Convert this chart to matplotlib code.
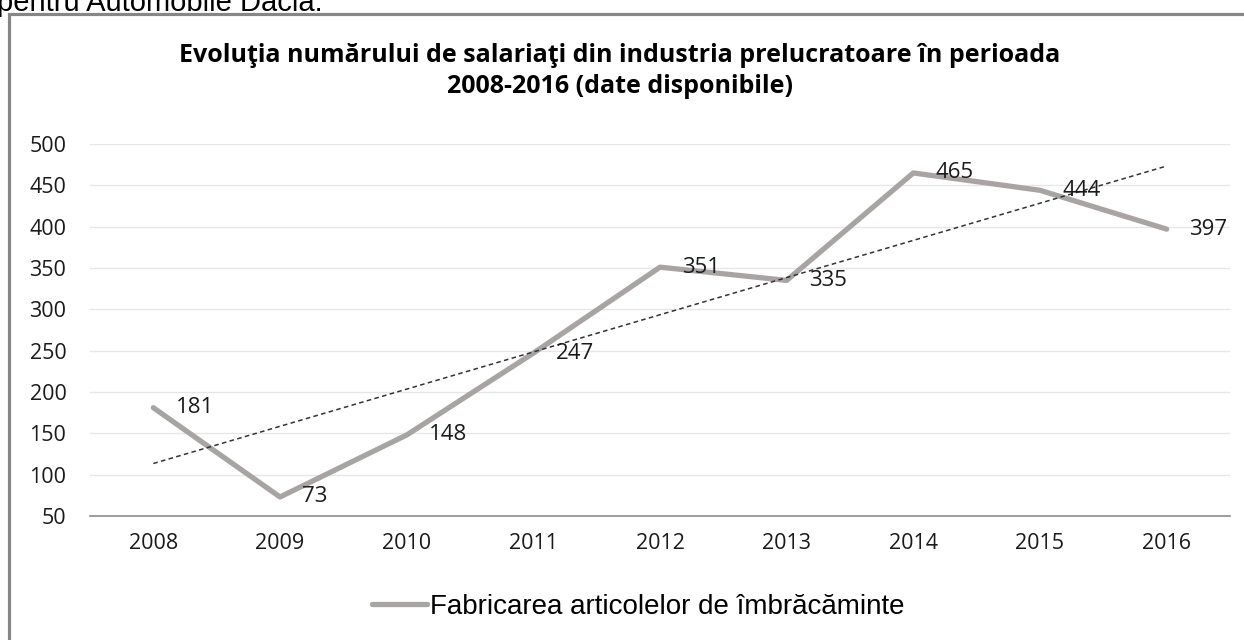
import numpy as np
import matplotlib
matplotlib.use("Agg")
import matplotlib.pyplot as plt
from matplotlib.patches import Rectangle

# date
ani = ["2008", "2009", "2010", "2011", "2012", "2013", "2014", "2015", "2016"]
salariati = [181, 73, 148, 247, 351, 335, 465, 444, 397]
serie = "Fabricarea articolelor de îmbrăcăminte"
titlu = "Evoluţia numărului de salariaţi din industria prelucratoare în perioada\n2008-2016 (date disponibile)"
yticks = [50, 100, 150, 200, 250, 300, 350, 400, 450, 500]

fig = plt.figure(figsize=(12.44, 6.4), dpi=100)
W, H = 1244, 640

# cadrul graficului (taiat la dreapta si jos)
fig.patches.append(Rectangle((8.5 / W, -0.1), 1.2, 1 - 13.5 / H + 0.1, transform=fig.transFigure,
                             fill=False, edgecolor="#868686", linewidth=2.3, zorder=0))
# text din document, taiat sus
fig.text(-3 / W, 1 - 11 / H, "pentru Automobile Dacia.", family="Liberation Sans",
         fontsize=21, va="baseline", ha="left", color="black")

ax = fig.add_axes([90 / W, 1 - 516 / H, 1140 / W, 372 / H])
x = np.arange(len(ani))
ax.plot(x, salariati, color="#a8a4a4", linewidth=3.8, solid_capstyle="round",
        solid_joinstyle="round", zorder=3, label=serie)

# linie de tendinta liniara
coef = np.polyfit(x, salariati, 1)
ax.plot(x, np.polyval(coef, x), color="#333333", linewidth=1.1, linestyle=(0, (3, 2.2)), zorder=4)

for xi, v in zip(x, salariati):
    ax.annotate(str(v), (xi, v), xytext=(16, 0), textcoords="offset points",
                ha="left", va="center", fontsize=16, family="Open Sans", color="#1a1a1a", zorder=5)

ax.set_xlim(-0.5, len(ani) - 0.5)
ax.set_ylim(50, 500)
ax.set_yticks(yticks)
ax.set_xticks(x)
ax.set_xticklabels(ani)
ax.grid(axis="y", color="#e6e6e6", linewidth=1)
ax.set_axisbelow(True)
for s in ["top", "right", "left"]:
    ax.spines[s].set_visible(False)
ax.spines["bottom"].set_color("#8c8c8c")
ax.spines["bottom"].set_linewidth(1.2)
ax.tick_params(axis="both", length=0, labelsize=15.5, labelcolor="#1a1a1a")
ax.tick_params(axis="y", pad=17)
ax.tick_params(axis="x", pad=12)
for lab in ax.get_xticklabels() + ax.get_yticklabels():
    lab.set_family("Open Sans")

fig.text(620 / W, 1 - 71 / H, titlu, ha="center", va="center", fontsize=18,
         fontweight="bold", family="Open Sans", linespacing=1.3, color="black")

leg = fig.legend(loc="center", bbox_to_anchor=(638 / W, 1 - 607 / H), frameon=False,
                 prop={"family": "Liberation Sans", "size": 20}, handlelength=2.0,
                 handletextpad=0.1)

fig.savefig("out.png", dpi=100)
